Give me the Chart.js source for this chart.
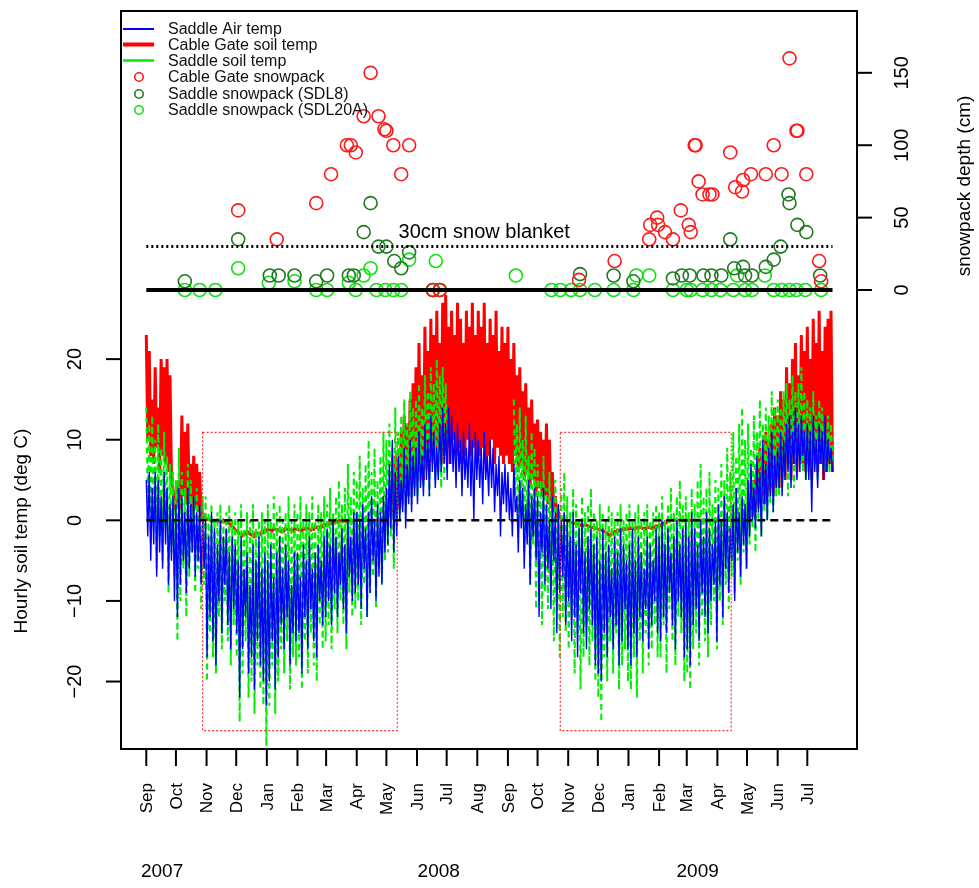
<!DOCTYPE html>
<html>
<head>
<meta charset="utf-8">
<script src="https://cdn.jsdelivr.net/npm/chart.js@4.4.1/dist/chart.umd.min.js"></script>
<style>
  html, body { margin: 0; padding: 0; background: #fff; }
  canvas { display: block; }
</style>
</head>
<body>
<canvas id="chart" width="979" height="888"></canvas>
<script>
// --- data: days since 1 Sep 2007, one sample every 3 days (daily high / low) ---
const STEP = 3;

const redHi = [
  23, 21, 15, 19, 14, 20, 19, 20, 18, 4,
  3, 5, 13, 11, 12, 7, 8, 7, 6, 1,
  0.3, 0.1, 0, 0, 0, -0.1, 0, -0.2, -0.4, -0.8,
  -1.2, -1.5, -1.8, -1.6, -1.4, -1.7, -1.9, -1.5, -1.6, -1.4, -1.2,
  -1.1, -1.2, -1.0, -1.1, -1.3, -1.2, -1.0, -1.1, -1.2, -1.0,
  -1.1, -1.2, -1.0, -0.9, -1.1, -1.0, -0.8, -0.9, -0.7, -0.5,
  -0.4, -0.3, -0.2, -0.1, 0, 0, -0.1, 0, 0, 0,
  0, 0, 0, 0, 0, 0, 0, 0, 0, 0.2,
  1, 3, 5, 8, 7, 11, 13, 12, 15, 17,
  19, 22, 18, 24, 21, 25, 23, 26, 22, 27,
  28, 24, 26, 23, 27, 25, 22, 26, 24, 27, 23,
  26, 24, 27, 22, 25, 23, 26, 21, 24, 22,
  24, 20, 22, 18, 19, 16, 17, 14, 15, 12,
  12.5, 11, 10, 12, 10, 6, 3, 1, 0.2, 0,
  0, -0.2, -0.3, -0.4, -0.5, -0.6, -0.5, -0.7, -0.8, -0.9,
  -1.0, -1.1, -1.3, -1.5, -1.8, -1.6, -1.4, -1.2, -1.1, -1.0, -1.0,
  -0.9, -1.0, -0.9, -0.8, -0.9, -1.0, -0.8, -0.9, -0.8, -0.7,
  -0.6, -0.4, -0.2, 0, 0, 0, 0, 0, 0,
  0, 0, 0, 0, 0, 0, 0, 0, 0, 0, 0,
  0, 0, 0, 0, 0, 0, 0, 0, 0, 0.3,
  1, 3, 5, 7, 9, 8, 11, 10, 12, 14,
  13, 16, 15, 19, 17, 20, 22, 18, 23, 21,
  24, 20, 25, 22, 26, 21, 24, 25, 26
];
const redLo = [
  10, 8, 7, 9, 6, 8, 7, 6, 5, 2,
  1.5, 1, 3, 2, 2, 1, 1.5, 1, 0.5, 0.2,
  0.1, 0, -0.1, -0.1, -0.1, -0.2, -0.2, -0.3, -0.5, -0.9,
  -1.3, -1.6, -1.9, -1.7, -1.5, -1.8, -2.0, -1.6, -1.7, -1.5, -1.3,
  -1.2, -1.3, -1.1, -1.2, -1.4, -1.3, -1.1, -1.2, -1.3, -1.1,
  -1.2, -1.3, -1.1, -1.0, -1.2, -1.1, -0.9, -1.0, -0.8, -0.6,
  -0.5, -0.4, -0.3, -0.2, -0.1, -0.1, -0.2, -0.1, -0.1, 0,
  0, 0, 0, 0, 0, 0, 0, 0, 0, 0,
  0.2, 0.5, 1, 2, 1.5, 3, 4, 3, 5, 6,
  6, 7, 5, 8, 6, 8, 7, 9, 7, 8,
  9, 7, 10, 8, 9, 7, 8, 10, 8, 9, 7,
  8, 9, 7, 8, 10, 7, 9, 8, 7, 8,
  7, 6, 8, 6, 7, 5, 6, 4, 5, 3,
  4, 3, 3, 2, 1.5, 1, 0.5, 0.3, 0.1, 0,
  -0.1, -0.3, -0.4, -0.5, -0.6, -0.7, -0.6, -0.8, -0.9, -1.0,
  -1.1, -1.2, -1.4, -1.6, -1.9, -1.7, -1.5, -1.3, -1.2, -1.1, -1.1,
  -1.0, -1.1, -1.0, -0.9, -1.0, -1.1, -0.9, -1.0, -0.9, -0.8,
  -0.7, -0.5, -0.3, -0.1, 0, 0, 0, 0, 0,
  0, 0, 0, 0, 0, 0, 0, 0, 0, 0, 0,
  0, 0, 0, 0, 0, 0, 0, 0, 0, 0,
  0, 0.5, 1, 2, 3, 2, 3, 4, 3, 5,
  4, 6, 5, 7, 5, 7, 6, 8, 7, 6,
  7, 5, 8, 6, 7, 5, 6, 7, 6
];

const airHi = [
  5, 6, 4, 6, 5, 3, 6, 4, 2, 3,
  2, 4, 3, 1, 4, 2, 3, 1, 2, 0,
  0, -2, 1, -1, -3, 0, -2, -1, -4, -2,
  -3, -5, -2, -6, -4, -8, -3, -5, -2, -6, -4,
  -5, -3, -7, -4, -2, -6, -3, -5, -8, -4,
  -4, -7, -3, -5, -2, -6, -4, -3, -5, -2,
  -1, -3, 0, -2, -4, -1, -3, 0, -2, 1,
  1, 0, 2, -1, 1, 3, 0, 2, 1, 3,
  4, 7, 10, 6, 8, 5, 9, 7, 10, 8,
  9, 11, 8, 12, 10, 13, 11, 9, 12, 14,
  12, 14, 13, 11, 12, 10, 11, 9, 12, 10, 11,
  10, 9, 11, 8, 10, 9, 7, 8, 6, 7,
  6, 4, 7, 3, 5, 4, 2, 5, 3, 4,
  3, 1, 4, 2, 0, 3, 1, 2, 0, 1,
  0, -2, 1, -3, -1, 0, -4, -2, -1, -3,
  -2, -5, -1, -4, -3, -6, -2, -4, -1, -3, -5,
  -3, -1, -5, -2, -4, -6, -2, -3, -5, -1,
  -2, 0, -3, -1, -4, -2, 0, -3, -1,
  0, -2, 1, -1, -3, 0, -2, 1, -1, -3, 0,
  2, 0, 3, 1, -1, 2, 4, 1, 3, 2,
  5, 7, 4, 8, 6, 10, 7, 9, 11, 8,
  9, 11, 10, 12, 13, 11, 14, 12, 13, 11,
  12, 11, 13, 10, 12, 11, 13, 10, 9
];
const airLo = [
  -2, -5, -3, -7, -4, -6, -3, -8, -5, -10,
  -12, -8, -5, -9, -6, -4, -7, -5, -8, -6,
  -17, -12, -15, -18, -10, -14, -8, -13, -16, -11,
  -14, -22, -16, -12, -19, -17, -21, -15, -18, -20, -23,
  -20, -15, -21, -17, -13, -16, -12, -18, -14, -15,
  -14, -19, -12, -16, -11, -15, -17, -10, -13, -12,
  -10, -13, -9, -12, -8, -11, -14, -7, -10, -9,
  -8, -11, -6, -12, -9, -5, -10, -7, -8, -4,
  -3, -1, -4, -2, 0, 1, -1, 2, 1, 3,
  2, 4, 3, 5, 3, 6, 4, 5, 6, 7,
  5, 7, 6, 4, 6, 3, 5, 4, 3, 0, 5,
  4, 2, 5, 3, 4, 1, 3, -2, 2, 1,
  0, -2, 1, -4, -1, -6, -3, -8, -2, -5,
  -12, -4, -8, -6, -11, -5, -14, -9, -7, -13,
  -10, -15, -12, -17, -9, -14, -16, -11, -13, -18,
  -19, -20, -14, -17, -12, -16, -13, -18, -15, -11, -16,
  -18, -14, -17, -12, -15, -11, -16, -13, -10, -14,
  -15, -12, -14, -9, -13, -16, -10, -12, -17,
  -16, -18, -13, -11, -15, -9, -12, -14, -10, -8, -15,
  -8, -12, -6, -9, -5, -10, -4, -7, -3, -6,
  -2, 0, -1, 1, -2, 2, 0, 3, 1, 4,
  4, 3, 5, 6, 4, 7, 5, 6, 8, 5,
  5, 1, 6, 4, 7, 5, 6, 7, 6
];

const saddleHi = [
  14, 12, 13, 10, 12, 9, 11, 8, 7, 6,
  5, 9, 6, 4, 7, 5, 3, 4, 2, 3,
  3, 1, 2, 0, 1, 2, 0, 1, 2, 0,
  1, 0, 2, -1, 1, 0, 2, -1, 0, 1, 0,
  2, 0, 3, 1, 2, 0, 1, 3, 0, 2,
  1, 3, 0, 2, 1, 3, 0, 2, 1, 3,
  2, 4, 1, 3, 5, 2, 4, 7, 3, 6,
  5, 8, 4, 7, 10, 6, 9, 5, 8, 11,
  10, 12, 9, 14, 11, 13, 15, 12, 16, 14,
  15, 17, 14, 18, 16, 19, 17, 20, 18, 19, 17,
  null, null, null, null, null, null, null, null, null, null, null,
  null, null, null, null, null, null, null, null, null, null, null,
  15, 12, 14, 10, 13, 8, 11, 9,
  7, 5, 8, 4, 6, 3, 5, 2, 4, 6,
  3, 1, 4, 2, 0, 3, 1, 2, 4, 1,
  0, 2, 1, 0, 2, 1, 0, 1, 2, 0, 1,
  2, 0, 1, 2, 0, 1, 2, 0, 1, 2,
  1, 3, 0, 2, 4, 1, 3, 5, 2,
  3, 1, 4, 2, 5, 7, 3, 4, 6, 2, 5,
  4, 7, 5, 9, 6, 11, 8, 12, 14, 10,
  12, 9, 13, 11, 15, 12, 14, 13, 16, 14,
  15, 14, 16, 17, 15, 18, 16, 17, 19, 16,
  15, 14, 16, 13, 15, 14, 12, 13, 12
];
const saddleLo = [
  2, -3, 0, -6, -2, -5, -1, -9, -4, -7,
  -15, -10, -6, -12, -7, -4, -9, -6, -11, -8,
  -20, -14, -17, -19, -12, -16, -10, -15, -18, -13,
  -17, -25, -19, -15, -22, -20, -24, -18, -21, -23, -28,
  -23, -18, -24, -20, -16, -19, -15, -21, -17, -18,
  -17, -21, -15, -19, -14, -18, -20, -13, -16, -15,
  -13, -16, -11, -14, -10, -13, -16, -9, -12, -11,
  -10, -13, -8, -12, -9, -7, -11, -6, -8, -5,
  -4, -2, -6, -1, 0, 2, 1, 3, 2, 4,
  3, 5, 4, 6, 3, 7, 5, 6, 4, 5, 6,
  null, null, null, null, null, null, null, null, null, null, null,
  null, null, null, null, null, null, null, null, null, null, null,
  3, -1, 2, -4, 0, -8, -3, -11,
  -6, -13, -9, -11, -7, -15, -10, -17, -12, -14,
  -16, -12, -19, -14, -21, -17, -13, -18, -15, -20,
  -22, -25, -17, -20, -15, -19, -14, -21, -18, -16, -20,
  -21, -17, -22, -15, -19, -14, -18, -16, -13, -17,
  -17, -13, -19, -11, -15, -18, -12, -14, -20,
  -19, -21, -16, -14, -18, -12, -15, -17, -13, -10, -16,
  -10, -13, -8, -11, -7, -9, -5, -8, -4, -6,
  -3, -1, -4, 0, -2, 1, 0, 2, 1, 3,
  3, 4, 5, 3, 6, 4, 5, 7, 6, 5,
  6, 4, 7, 5, 8, 6, 7, 6, 7
];

// snow survey points (day, depth cm)
const cgSnowDays = [93, 132, 172, 187, 203, 207, 212, 220, 227, 235, 241, 243, 250, 258, 266, 290, 297, 438, 474, 509,
  510, 517, 518, 525, 533, 541, 549, 551, 555, 556, 559, 563, 570, 573, 591, 596, 603, 604, 612, 627,
  635, 643, 651, 658, 659, 668, 681, 683];
const cgSnowCm = [55, 35, 60, 80, 100, 100, 95, 120, 150, 120, 111, 110, 100, 80, 100, 0, 0, 7, 20, 35,
  45, 50, 45, 40, 35, 55, 45, 40, 100, 100, 75, 66, 66, 66, 95, 71, 68, 76, 80, 80,
  100, 80, 160, 110, 110, 80, 20, 6];
const sdl8Days = [39, 93, 125, 134, 150, 172, 183, 205, 210, 220, 227, 235, 243, 251, 258, 266, 290, 297, 439, 473,
  493, 533, 542, 550, 564, 572, 582, 591, 595, 604, 606, 613, 627, 635, 642, 650, 651, 659, 668, 682];
const sdl8Cm = [6, 35, 10, 10, 10, 6, 10, 10, 10, 40, 60, 30, 30, 20, 15, 26, 0, 0, 11, 10,
  6, 8, 10, 10, 10, 10, 10, 35, 15, 16, 10, 10, 16, 21, 30, 66, 60, 45, 40, 10];
const sdl20Days = [39, 54, 70, 93, 124, 150, 172, 183, 205, 212, 220, 227, 233, 242, 250, 258, 266, 290, 293, 297,
  374, 410, 419, 430, 439, 454, 473, 493, 496, 509, 533, 547, 551, 563, 572, 581, 594, 598, 606, 613,
  626, 635, 643, 651, 658, 667, 683];
const sdl20Cm = [0, 0, 0, 15, 5, 6, 0, 0, 5, 0, 10, 15, 0, 0, 0, 0, 21, 0, 20, 0,
  10, 0, 0, 0, 0, 0, 0, 0, 10, 10, 0, 0, 0, 0, 0, 0, 0, 10, 0, 0,
  10, 0, 0, 0, 0, 0, 0];

// axis labels
const monthLabels = ['Sep','Oct','Nov','Dec','Jan','Feb','Mar','Apr','May','Jun','Jul','Aug',
  'Sep','Oct','Nov','Dec','Jan','Feb','Mar','Apr','May','Jun','Jul'];
const monthDays = [0, 30, 61, 91, 122, 153, 182, 213, 243, 274, 304, 335,
  366, 396, 427, 457, 488, 519, 547, 578, 608, 639, 669];
const yearLabels = ['2007', '2008', '2009'];
const yearDays = [16, 296, 558];
const tempTicks = [-20, -10, 0, 10, 20];
const snowTicks = [0, 50, 100, 150];

// reference marks
const winterBoxes = [[57, 254], [419, 592]];
const winterBoxTemp = [-26.1, 10.9];
const refLineDays = [0, 694.5];
const blanketCm = 30;

const FONT = '"Liberation Sans", Arial, Helvetica, sans-serif';

function band(hi, lo) {
  const pts = [];
  for (let i = 0; i < hi.length; i++) {
    pts.push({ x: i * STEP, y: hi[i] });
    pts.push({ x: i * STEP + STEP / 2, y: lo[i] });
  }
  return pts;
}
function pairs(xs, ys) {
  return xs.map((d, i) => ({ x: d, y: ys[i] }));
}

const rStyle = {
  id: 'rStyle',
  afterDatasetsDraw(chart) {
    const { ctx, scales: { x, y, y2 } } = chart;
    ctx.save();
    // dotted red boxes around the winters
    ctx.strokeStyle = '#ff3030';
    ctx.lineWidth = 1.2;
    ctx.setLineDash([2, 2]);
    winterBoxes.forEach(([a, b]) => {
      const x0 = x.getPixelForValue(a), x1 = x.getPixelForValue(b);
      const yt = y.getPixelForValue(winterBoxTemp[1]), yb = y.getPixelForValue(winterBoxTemp[0]);
      ctx.strokeRect(x0, yt, x1 - x0, yb - yt);
    });
    const xa = x.getPixelForValue(refLineDays[0]), xb = x.getPixelForValue(refLineDays[1]);
    // 0 deg dashed
    ctx.strokeStyle = '#000';
    ctx.lineWidth = 2.5;
    ctx.setLineDash([8, 5]);
    let yy = y.getPixelForValue(0);
    ctx.beginPath(); ctx.moveTo(xa, yy); ctx.lineTo(xb, yy); ctx.stroke();
    // 30 cm dotted
    ctx.lineWidth = 3;
    ctx.setLineDash([2, 3]);
    yy = y2.getPixelForValue(blanketCm);
    ctx.beginPath(); ctx.moveTo(xa, yy); ctx.lineTo(xb, yy); ctx.stroke();
    // 0 cm solid
    ctx.setLineDash([]);
    ctx.lineWidth = 4;
    yy = y2.getPixelForValue(0);
    ctx.beginPath(); ctx.moveTo(xa, yy); ctx.lineTo(xb, yy); ctx.stroke();
    ctx.fillStyle = '#000';
    ctx.font = '20px ' + FONT;
    ctx.textAlign = 'center';
    ctx.textBaseline = 'middle';
    ctx.fillText('30cm snow blanket', x.getPixelForValue(342), y2.getPixelForValue(40));
    ctx.restore();
  },
  afterDraw(chart) {
    const { ctx, chartArea: a, scales: { x, y, y2 } } = chart;
    ctx.save();
    ctx.strokeStyle = '#000';
    ctx.fillStyle = '#000';
    ctx.lineWidth = 2;
    ctx.strokeRect(a.left, a.top, a.right - a.left, a.bottom - a.top);

    const vtext = (txt, px, py, align) => {
      ctx.save();
      ctx.translate(px, py);
      ctx.rotate(-Math.PI / 2);
      ctx.textAlign = align;
      ctx.textBaseline = 'middle';
      ctx.fillText(txt, 0, 0);
      ctx.restore();
    };

    // bottom axis
    ctx.font = '17px ' + FONT;
    monthDays.forEach((d, i) => {
      const px = x.getPixelForValue(d);
      ctx.beginPath(); ctx.moveTo(px, a.bottom); ctx.lineTo(px, a.bottom + 17); ctx.stroke();
      vtext(monthLabels[i], px + 1, a.bottom + 34, 'right');
    });
    ctx.font = '19px ' + FONT;
    ctx.textAlign = 'center';
    ctx.textBaseline = 'middle';
    yearDays.forEach((d, i) => ctx.fillText(yearLabels[i], x.getPixelForValue(d), 872));

    // left axis
    ctx.font = '20px ' + FONT;
    tempTicks.forEach(v => {
      const py = y.getPixelForValue(v);
      ctx.beginPath(); ctx.moveTo(a.left, py); ctx.lineTo(a.left - 15, py); ctx.stroke();
      vtext(String(v).replace('-', '\u2212'), 75, py, 'center');
    });
    // right axis
    snowTicks.forEach(v => {
      const py = y2.getPixelForValue(v);
      ctx.beginPath(); ctx.moveTo(a.right, py); ctx.lineTo(a.right + 15, py); ctx.stroke();
      vtext(String(v), 902, py, 'center');
    });
    ctx.font = '19px ' + FONT;
    vtext('Hourly soil temp (deg C)', 22, 531, 'center');
    vtext('snowpack depth (cm)', 965, 186, 'center');

    // legend
    const lx = 123, lw = 31, tx = 168;
    const rows = [29, 44.5, 60.5, 77, 94, 110];
    const lines = [['#0000ff', 2], ['#ff0000', 4], ['#00ee00', 2.5]];
    lines.forEach(([c, w], i) => {
      ctx.strokeStyle = c; ctx.lineWidth = w;
      ctx.beginPath(); ctx.moveTo(lx, rows[i]); ctx.lineTo(lx + lw, rows[i]); ctx.stroke();
    });
    ['#ff1a1a', '#1f7a1f', '#11e011'].forEach((c, i) => {
      ctx.strokeStyle = c; ctx.lineWidth = 1.6;
      ctx.beginPath(); ctx.arc(139, rows[i + 3], 4.2, 0, Math.PI * 2); ctx.stroke();
    });
    ctx.font = '16px ' + FONT;
    ctx.fillStyle = '#111';
    ctx.textAlign = 'left';
    ctx.textBaseline = 'middle';
    ['Saddle Air temp', 'Cable Gate soil temp', 'Saddle soil temp', 'Cable Gate snowpack',
     'Saddle snowpack (SDL8)', 'Saddle snowpack (SDL20A)'].forEach((t, i) => ctx.fillText(t, tx, rows[i] + 1));
    ctx.restore();
  }
};

const snowPoint = (color) => ({
  showLine: false,
  borderColor: color,
  backgroundColor: 'rgba(0,0,0,0)',
  pointRadius: 6.5,
  pointBorderWidth: 1.6,
  yAxisID: 'y2',
  order: 0
});

new Chart(document.getElementById('chart'), {
  type: 'line',
  data: {
    datasets: [
      Object.assign({ label: 'Cable Gate snowpack', data: pairs(cgSnowDays, cgSnowCm) }, snowPoint('#ff1a1a')),
      Object.assign({ label: 'Saddle snowpack (SDL8)', data: pairs(sdl8Days, sdl8Cm) }, snowPoint('#1f7a1f')),
      Object.assign({ label: 'Saddle snowpack (SDL20A)', data: pairs(sdl20Days, sdl20Cm) }, snowPoint('#11e011')),
      {
        label: 'Saddle Air temp', data: band(airHi, airLo),
        borderColor: '#0000ff', borderWidth: 1.4, pointRadius: 0, yAxisID: 'y', order: 1
      },
      {
        label: 'Saddle soil temp', data: band(saddleHi, saddleLo),
        borderColor: '#00ee00', borderWidth: 2, borderDash: [6, 4], spanGaps: false,
        pointRadius: 0, yAxisID: 'y', order: 2
      },
      {
        label: 'Cable Gate soil temp', data: band(redHi, redLo),
        borderColor: '#ff0000', borderWidth: 3, pointRadius: 0, yAxisID: 'y', order: 3
      }
    ]
  },
  options: {
    responsive: false,
    animation: false,
    devicePixelRatio: 1,
    layout: { padding: { left: 121, right: 122, top: 11, bottom: 139 } },
    elements: { line: { tension: 0 } },
    plugins: { legend: { display: false }, tooltip: { enabled: false } },
    scales: {
      x: { type: 'linear', min: -25.6, max: 719.3, display: false },
      y: { type: 'linear', min: -28.37, max: 63.19, display: false },
      y2: { type: 'linear', min: -317, max: 192.7, display: false, position: 'right' }
    }
  },
  plugins: [rStyle]
});
</script>
</body>
</html>
